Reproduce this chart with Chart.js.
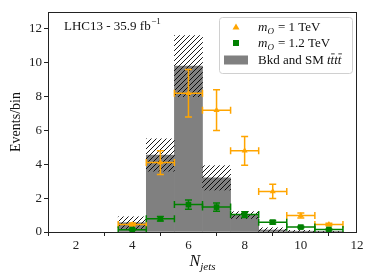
<!DOCTYPE html>
<html><head><meta charset="utf-8">
<script src="https://cdn.jsdelivr.net/npm/chart.js@4/dist/chart.umd.min.js"></script>
<style>html,body{margin:0;padding:0;background:#fff;}#wrap{width:374px;height:280px;}</style>
</head><body><div id="wrap"><canvas id="c" width="374" height="280"></canvas></div>
<script>
// ---- data ----
const nJets = [4, 5, 6, 7, 8, 9, 10, 11];
const binHalfWidth = [0.5, 0.5, 0.5, 0.5, 0.5, 0.5, 0.5, 0.5];
const bkg = [0.55, 4.55, 9.8, 3.2, 1.0, 0.12, 0.05, 0.01];
const bkgErr = [0.35, 0.95, 1.8, 0.72, 0.2, 0.13, 0.05, 0.01];
const sig1 = [0.45, 4.1, 8.2, 7.2, 4.8, 2.4, 0.97, 0.44];
const sig1Err = [0.08, 0.7, 1.4, 1.2, 0.85, 0.42, 0.15, 0.07];
const sig2 = [0.14, 0.78, 1.62, 1.47, 1.03, 0.58, 0.29, 0.15];
const sig2Err = [0.03, 0.13, 0.27, 0.25, 0.17, 0.1, 0.05, 0.03];
const xTicks = [2, 4, 6, 8, 10, 12];
const yTicks = [0, 2, 4, 6, 8, 10, 12];
const lumiLabel = ['LHC13 - 35.9 fb', '\u22121'];
const sigLabels = ['= 1 TeV', '= 1.2 TeV'];
const bkgLabel = 'Bkd and SM ';
const xTitle = ['N', 'jets'];
const yTitle = 'Events/bin';

const SERIF = '"Liberation Serif", "DejaVu Serif", serif';
const ORANGE = '#ffa500', GREEN = '#008000', GRAY = '#808080';

const canvas = document.getElementById('c');
const mainCtx = canvas.getContext('2d');
function makeHatch() {
  const s = 5, c = document.createElement('canvas');
  c.width = s; c.height = s;
  const g = c.getContext('2d');
  g.strokeStyle = '#000'; g.lineWidth = 0.9;
  g.beginPath();
  g.moveTo(0, s); g.lineTo(s, 0);
  g.moveTo(-1, 1); g.lineTo(1, -1);
  g.moveTo(s - 1, s + 1); g.lineTo(s + 1, s - 1);
  g.stroke();
  return mainCtx.createPattern(c, 'repeat');
}
const hatch = makeHatch();

const errPlugin = {
  id: 'errbars',
  beforeDatasetDraw(chart, args) {
    const ds = chart.data.datasets[args.index];
    if (!ds.yErr) return;
    const xs = chart.scales.x, ys = chart.scales.y, ctx = chart.ctx, ca = chart.chartArea;
    const cap = 3.5;
    ctx.save();
    ctx.beginPath(); ctx.rect(ca.left, ca.top, ca.right - ca.left, ca.bottom - ca.top); ctx.clip();
    ctx.strokeStyle = ds.borderColor; ctx.lineWidth = 1.5;
    ds.data.forEach((p, i) => {
      const px = xs.getPixelForValue(p.x), py = ys.getPixelForValue(p.y);
      const xl = xs.getPixelForValue(p.x - ds.xErr[i]), xr = xs.getPixelForValue(p.x + ds.xErr[i]);
      const yt = ys.getPixelForValue(p.y + ds.yErr[i]), yb = ys.getPixelForValue(p.y - ds.yErr[i]);
      ctx.beginPath();
      ctx.moveTo(xl, py); ctx.lineTo(xr, py);
      ctx.moveTo(px, yt); ctx.lineTo(px, yb);
      ctx.moveTo(xl, py - cap); ctx.lineTo(xl, py + cap);
      ctx.moveTo(xr, py - cap); ctx.lineTo(xr, py + cap);
      ctx.moveTo(px - cap, yt); ctx.lineTo(px + cap, yt);
      ctx.moveTo(px - cap, yb); ctx.lineTo(px + cap, yb);
      ctx.stroke();
    });
    ctx.restore();
  }
};

function drawMath(ctx, x, y, main, sub, size) {
  ctx.font = 'italic ' + size + 'px ' + SERIF;
  ctx.fillText(main, x, y);
  let w = ctx.measureText(main).width;
  ctx.font = 'italic ' + Math.round(size * 0.7) + 'px ' + SERIF;
  ctx.fillText(sub, x + w, y + size * 0.25);
  return w + ctx.measureText(sub).width;
}

const decorPlugin = {
  id: 'decor',
  afterDraw(chart) {
    const ctx = chart.ctx, ca = chart.chartArea;
    ctx.save();
    // frame
    ctx.strokeStyle = '#222'; ctx.lineWidth = 1;
    ctx.strokeRect(Math.round(ca.left) + 0.5, Math.round(ca.top) + 0.5,
      Math.round(ca.right - ca.left) - 1, Math.round(ca.bottom - ca.top));
    ctx.fillStyle = '#111';
    ctx.textBaseline = 'alphabetic'; ctx.textAlign = 'left';
    // lumi label
    ctx.font = '13px ' + SERIF;
    ctx.fillText(lumiLabel[0], ca.left + 16, ca.top + 18);
    let lw0 = ctx.measureText(lumiLabel[0]).width;
    ctx.font = '9px ' + SERIF;
    ctx.fillText(lumiLabel[1], ca.left + 16 + lw0 + 0.5, ca.top + 12);
    // x title
    ctx.font = 'italic 16px ' + SERIF;
    const nw = ctx.measureText(xTitle[0]).width;
    ctx.font = 'italic 11px ' + SERIF;
    const jw = ctx.measureText(xTitle[1]).width;
    const cx = (ca.left + ca.right) / 2;
    let sx = cx - (nw + jw) / 2;
    ctx.font = 'italic 16px ' + SERIF;
    ctx.fillText(xTitle[0], sx, ca.bottom + 34);
    ctx.font = 'italic 11px ' + SERIF;
    ctx.fillText(xTitle[1], sx + nw, ca.bottom + 38);
    // y title
    ctx.save();
    ctx.translate(ca.left - 28, (ca.top + ca.bottom) / 2);
    ctx.rotate(-Math.PI / 2);
    ctx.textAlign = 'center';
    ctx.font = '14px ' + SERIF;
    ctx.fillText(yTitle, 0, 0);
    ctx.restore();
    // legend
    const lx = ca.right - 138, ly = ca.top + 5, lw = 133, lh = 56;
    ctx.beginPath();
    ctx.roundRect(lx + 0.5, ly + 0.5, lw, lh, 3);
    ctx.fillStyle = 'rgba(255,255,255,0.8)'; ctx.fill();
    ctx.strokeStyle = '#d0d0d0'; ctx.stroke();
    const rows = [ly + 10, ly + 26, ly + 43];
    const mx = lx + 17, tx = lx + 39;
    // triangle
    ctx.fillStyle = ORANGE;
    ctx.beginPath();
    ctx.moveTo(mx, rows[0] - 3.5); ctx.lineTo(mx + 3.5, rows[0] + 2.5); ctx.lineTo(mx - 3.5, rows[0] + 2.5);
    ctx.closePath(); ctx.fill();
    ctx.fillStyle = GREEN;
    ctx.fillRect(mx - 3, rows[1] - 3, 6, 6);
    ctx.fillStyle = GRAY;
    ctx.fillRect(lx + 5, rows[2] - 4.5, 24, 9);
    ctx.fillStyle = '#111';
    for (let k = 0; k < 2; k++) {
      const w = drawMath(ctx, tx, rows[k] + 4, 'm', 'O', 13);
      ctx.font = '13px ' + SERIF;
      ctx.fillText(sigLabels[k], tx + w + 4, rows[k] + 4);
    }
    ctx.font = '13px ' + SERIF;
    ctx.fillText(bkgLabel, tx, rows[2] + 4);
    let bx = tx + ctx.measureText(bkgLabel).width;
    ctx.font = 'italic 13px ' + SERIF;
    const tw = ctx.measureText('t').width;
    for (let k = 0; k < 4; k++) {
      ctx.fillText('t', bx + k * tw, rows[2] + 4);
      if (k % 2 === 1) ctx.fillRect(bx + k * tw + 0.5, rows[2] - 6.5, tw, 0.8);
    }
    ctx.restore();
  }
};

const pts = (vals) => nJets.map((n, i) => ({ x: n, y: vals[i] }));

new Chart(canvas, {
  type: 'bar',
  data: {
    datasets: [
      { type: 'bar', label: 'bkg', data: pts(bkg), backgroundColor: GRAY, borderWidth: 0,
        grouped: false, barPercentage: 1, categoryPercentage: 1, order: 4 },
      { type: 'bar', label: 'unc', data: nJets.map((n, i) => ({ x: n, y: [bkg[i] - bkgErr[i], bkg[i] + bkgErr[i]] })),
        backgroundColor: hatch, borderWidth: 0, grouped: false, barPercentage: 1, categoryPercentage: 1, order: 3 },
      { type: 'scatter', label: 'sig1', data: pts(sig1), yErr: sig1Err, xErr: binHalfWidth,
        pointStyle: 'triangle', pointRadius: 3.5, backgroundColor: ORANGE, borderColor: ORANGE, borderWidth: 0, order: 2 },
      { type: 'scatter', label: 'sig2', data: pts(sig2), yErr: sig2Err, xErr: binHalfWidth,
        pointStyle: 'rect', pointRadius: 4, backgroundColor: GREEN, borderColor: GREEN, borderWidth: 0, order: 1 }
    ]
  },
  options: {
    responsive: false, animation: false, devicePixelRatio: 1,
    layout: { padding: { top: 12, right: 17, left: 0, bottom: 0 } },
    plugins: { legend: { display: false }, tooltip: { enabled: false } },
    scales: {
      x: {
        type: 'linear', min: 1, max: 12, offset: false,
        afterBuildTicks: s => { s.ticks = xTicks.map(v => ({ value: v })); },
        afterFit: s => { s.height = 48; },
        grid: { display: true, drawOnChartArea: false, drawTicks: true, tickLength: 4, color: '#222' },
        border: { display: false },
        ticks: { color: '#222', font: { family: SERIF, size: 13 }, padding: 2, maxRotation: 0 }
      },
      y: {
        min: 0, max: 13,
        afterBuildTicks: s => { s.ticks = yTicks.map(v => ({ value: v })); },
        afterFit: s => { s.width = 48; },
        grid: { display: true, drawOnChartArea: false, drawTicks: true, tickLength: 4, color: '#222' },
        border: { display: false },
        ticks: { color: '#222', font: { family: SERIF, size: 13 }, padding: 2 }
      }
    }
  },
  plugins: [errPlugin, decorPlugin]
});
</script></body></html>
